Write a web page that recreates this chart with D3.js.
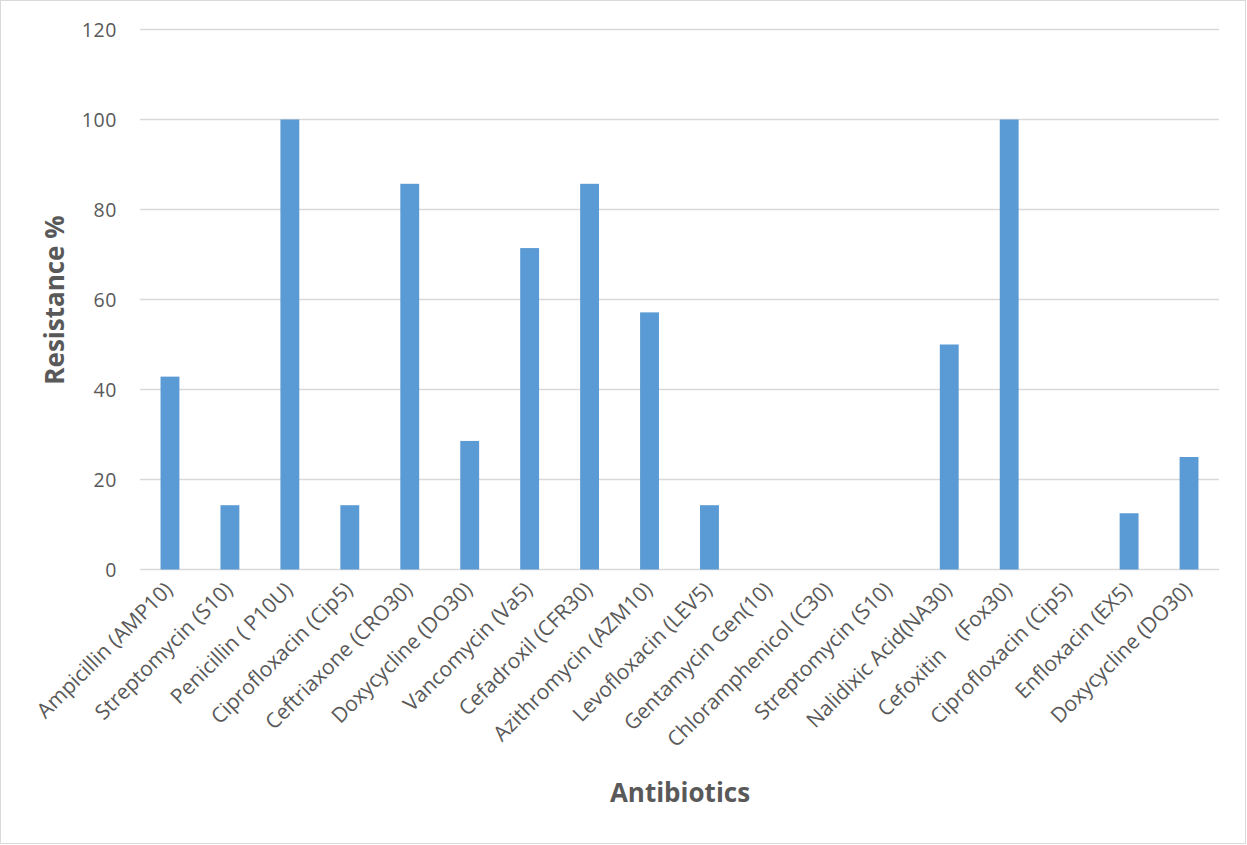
<!DOCTYPE html>
<html><head><meta charset="utf-8">
<script src="https://cdn.jsdelivr.net/npm/d3@7"></script>
<style>body{margin:0;background:#fff;} svg{display:block;}</style>
</head><body>
<script>
const categories = ["Ampicillin (AMP10)","Streptomycin (S10)","Penicillin ( P10U)","Ciprofloxacin (Cip5)","Ceftriaxone (CRO30)","Doxycycline (DO30)","Vancomycin (Va5)","Cefadroxil (CFR30)","Azithromycin (AZM10)","Levofloxacin (LEV5)","Gentamycin Gen(10)","Chloramphenicol (C30)","Streptomycin (S10)","Nalidixic Acid(NA30)","Cefoxitin    (Fox30)","Ciprofloxacin (Cip5)","Enfloxacin (EX5)","Doxycycline (DO30)"];
const values = [42.86,14.29,100,14.29,85.71,28.57,71.43,85.71,57.14,14.29,0,0,0,50,100,0,12.5,25];
const yTicks = [0,20,40,60,80,100,120];

(function(){
const W=1247,H=845;
const svg=d3.select("body").append("svg").attr("width",W).attr("height",H);
svg.append("rect").attr("x",0.5).attr("y",0.5).attr("width",W-2).attr("height",H-2).attr("fill","#fff").attr("stroke","#d9d9d9");
const pLeft=140,pRight=1219,pTop=29.5,pBottom=569.5;
const x=d3.scaleBand().domain(d3.range(categories.length)).range([pLeft,pRight]).paddingInner(0.685).paddingOuter(0.3425);
const y=d3.scaleLinear().domain([0,120]).range([pBottom,pTop]);
const font="'Open Sans', 'Liberation Sans', sans-serif";
svg.append("g").selectAll("line").data(yTicks).join("line")
 .attr("x1",pLeft).attr("x2",pRight).attr("y1",d=>y(d)).attr("y2",d=>y(d))
 .attr("stroke","#d9d9d9").attr("stroke-width",1.3);
svg.append("g").selectAll("text").data(yTicks).join("text")
 .attr("x",117).attr("y",d=>y(d)).attr("dy","0.36em").attr("text-anchor","end")
 .attr("font-family",font).attr("font-size",19.5).attr("letter-spacing","0.6").attr("fill","#595959").text(d=>d);
svg.append("g").selectAll("rect").data(values).join("rect")
 .attr("x",(d,i)=>x(i)).attr("width",x.bandwidth())
 .attr("y",d=>y(d)).attr("height",d=>y(0)-y(d)).attr("fill","#5b9bd5");
svg.append("g").selectAll("text").data(categories).join("text")
 .attr("transform",(d,i)=>`translate(${x(i)+x.bandwidth()/2+4},${591}) rotate(-45)`)
 .attr("text-anchor","end").attr("font-family",font).attr("font-size",21).attr("fill","#595959")
 .attr("xml:space","preserve").style("white-space","pre").text(d=>d);
svg.append("text").attr("x",680).attr("y",802).attr("text-anchor","middle")
 .attr("font-family",font).attr("font-weight","bold").attr("font-size",26).attr("fill","#595959").text("Antibiotics");
svg.append("text").attr("transform",`translate(64,300) rotate(-90)`).attr("text-anchor","middle")
 .attr("font-family",font).attr("font-weight","bold").attr("font-size",26).attr("fill","#595959").text("Resistance %");
})();
</script>
</body></html>
